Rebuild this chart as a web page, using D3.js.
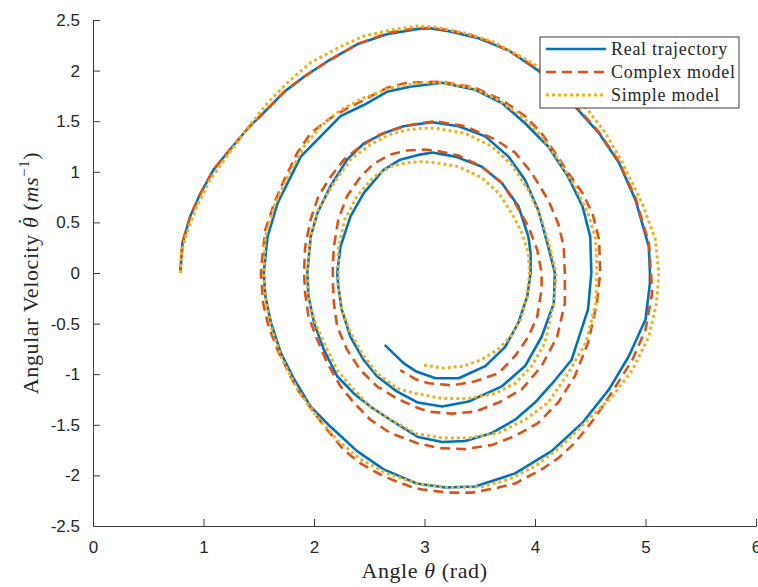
<!DOCTYPE html>
<html lang="en">
<head>
  <meta charset="UTF-8"/>
  <title>Pendulum phase portrait</title>
  <script src="https://d3js.org/d3.v7.min.js"></script>
  <style>
    body { margin: 0; background: #fff; }
    svg { display: block; }
    .tick text { font-family: 'Liberation Sans', Arial, sans-serif; font-size: 17px; fill: #262626; }
    .label, .legend text { font-family: 'Liberation Serif', 'Times New Roman', serif; fill: #262626; }
  </style>
</head>
<body>
  <svg width="758" height="587"></svg>

  <script>

  // phase-plane samples: [angle (rad), angular velocity]
  const realTrajectory = [
    [0.79, 0], [0.81, 0.30], [0.88, 0.56], [0.97, 0.78], [1.09, 1.02], [1.24, 1.22], [1.41, 1.44],
    [1.55, 1.59], [1.73, 1.79], [1.91, 1.94], [2.12, 2.09], [2.39, 2.26], [2.66, 2.36], [2.93, 2.41],
    [3.04, 2.42], [3.22, 2.39], [3.49, 2.32], [3.76, 2.20], [4.03, 2.00], [4.36, 1.65], [4.58, 1.38],
    [4.76, 1.09], [4.91, 0.72], [5.03, 0.26], [5.04, 0.0], [5.04, -0.10], [5.00, -0.46], [4.85, -0.82],
    [4.67, -1.15], [4.43, -1.48], [4.15, -1.76], [3.82, -1.98], [3.46, -2.11], [3.19, -2.12],
    [2.93, -2.08], [2.63, -1.94], [2.39, -1.76], [2.15, -1.52], [1.97, -1.32], [1.82, -1.05],
    [1.70, -0.79], [1.61, -0.49], [1.56, -0.23], [1.545, 0.0],
    [1.58, 0.36], [1.67, 0.69], [1.88, 1.15], [2.06, 1.35], [2.24, 1.55], [2.45, 1.66], [2.66, 1.79],
    [2.87, 1.84], [3.16, 1.88], [3.46, 1.81], [3.70, 1.68], [3.91, 1.48], [4.12, 1.25], [4.30, 0.95],
    [4.43, 0.66], [4.50, 0.36], [4.51, 0.0], [4.48, -0.36], [4.33, -0.86], [4.18, -1.06], [4.00, -1.28],
    [3.82, -1.45], [3.61, -1.58], [3.37, -1.66], [3.16, -1.67], [2.94, -1.62], [2.69, -1.45],
    [2.51, -1.32], [2.36, -1.19], [2.21, -1.02], [2.09, -0.76], [2.00, -0.49], [1.95, -0.23], [1.94, 0.0],
    [1.97, 0.36], [2.03, 0.59], [2.15, 0.86], [2.30, 1.12], [2.45, 1.28], [2.63, 1.38], [2.81, 1.45],
    [3.00, 1.48], [3.07, 1.49], [3.31, 1.45], [3.55, 1.35], [3.76, 1.15], [3.91, 0.92], [4.03, 0.62],
    [4.12, 0.26], [4.18, 0.0], [4.17, -0.30], [4.06, -0.63], [3.91, -0.92], [3.70, -1.12], [3.40, -1.27],
    [3.16, -1.32], [2.94, -1.28], [2.75, -1.17], [2.57, -1.02], [2.45, -0.86], [2.33, -0.63],
    [2.25, -0.36], [2.22, -0.13], [2.21, 0.0],
    [2.24, 0.26], [2.33, 0.56], [2.45, 0.79], [2.63, 1.02], [2.78, 1.12], [2.96, 1.17], [3.07, 1.19],
    [3.28, 1.15], [3.52, 1.05], [3.70, 0.89], [3.85, 0.66], [3.94, 0.36], [3.96, 0.20], [3.96, 0.0],
    [3.93, -0.23], [3.85, -0.49], [3.73, -0.73], [3.55, -0.92], [3.31, -1.04], [3.10, -1.04],
    [2.92, -0.97], [2.81, -0.89], [2.64, -0.71]
  ];

  const complexModel = [
    [0.79, 0], [0.81, 0.30], [0.88, 0.56], [0.97, 0.78], [1.09, 1.02], [1.24, 1.22], [1.41, 1.44],
    [1.55, 1.59], [1.73, 1.79], [1.91, 1.94], [2.12, 2.09], [2.39, 2.26], [2.66, 2.37], [2.93, 2.42],
    [3.04, 2.42], [3.22, 2.40], [3.49, 2.33], [3.76, 2.20], [4.03, 2.01], [4.36, 1.66], [4.58, 1.39],
    [4.76, 1.10], [4.91, 0.74], [5.03, 0.30], [5.05, 0.0], [5.06, -0.20], [5.00, -0.56], [4.88, -0.86],
    [4.73, -1.12], [4.55, -1.42], [4.36, -1.68], [4.21, -1.83], [4.06, -1.94], [3.82, -2.08],
    [3.67, -2.12], [3.43, -2.17], [3.22, -2.17], [2.98, -2.14], [2.87, -2.11], [2.63, -2.01],
    [2.42, -1.88], [2.27, -1.75], [2.12, -1.55], [2.00, -1.38], [1.85, -1.15], [1.76, -0.96],
    [1.67, -0.76], [1.59, -0.53], [1.54, -0.30], [1.52, 0.0],
    [1.53, 0.13], [1.56, 0.43], [1.64, 0.69], [1.73, 0.92], [1.85, 1.19], [1.97, 1.38], [2.12, 1.51],
    [2.27, 1.61], [2.45, 1.71], [2.66, 1.83], [2.84, 1.88], [3.16, 1.89], [3.46, 1.83], [3.70, 1.71],
    [3.91, 1.55], [4.06, 1.38], [4.18, 1.19], [4.30, 0.99], [4.43, 0.79], [4.52, 0.59], [4.58, 0.33],
    [4.59, 0.0], [4.56, -0.30], [4.48, -0.69], [4.36, -1.02], [4.21, -1.28], [4.03, -1.48],
    [3.82, -1.61], [3.61, -1.70], [3.37, -1.74], [3.13, -1.73], [2.93, -1.68], [2.69, -1.58],
    [2.51, -1.45], [2.36, -1.28], [2.24, -1.12], [2.12, -0.89], [2.03, -0.66], [1.95, -0.43],
    [1.92, -0.20], [1.91, 0.0],
    [1.92, 0.26], [1.97, 0.53], [2.04, 0.76], [2.15, 0.95], [2.27, 1.12], [2.42, 1.25], [2.60, 1.37],
    [2.81, 1.45], [2.96, 1.48], [3.10, 1.50], [3.37, 1.45], [3.64, 1.32], [3.82, 1.19], [3.97, 0.99],
    [4.12, 0.72], [4.21, 0.49], [4.26, 0.26], [4.27, 0.0], [4.27, -0.30], [4.20, -0.63], [4.06, -0.92],
    [3.88, -1.15], [3.67, -1.28], [3.46, -1.37], [3.25, -1.39], [3.04, -1.37], [2.93, -1.33],
    [2.75, -1.24], [2.57, -1.12], [2.42, -0.96], [2.30, -0.76], [2.21, -0.53], [2.18, -0.30],
    [2.17, -0.07], [2.17, 0.07],
    [2.18, 0.26], [2.22, 0.53], [2.30, 0.76], [2.42, 0.95], [2.54, 1.08], [2.69, 1.17], [2.84, 1.21],
    [3.00, 1.22], [3.10, 1.21], [3.31, 1.16], [3.52, 1.05], [3.70, 0.89], [3.82, 0.69], [3.94, 0.46],
    [4.02, 0.23], [4.06, 0.0], [4.06, -0.16], [4.02, -0.43], [3.94, -0.63], [3.82, -0.82],
    [3.67, -0.99], [3.46, -1.07], [3.25, -1.11], [3.04, -1.09], [2.92, -1.05], [2.78, -0.96]
  ];

  const simpleModel = [
    [0.79, 0.0], [0.80, 0.20], [0.85, 0.40], [0.94, 0.66], [1.06, 0.92], [1.21, 1.15], [1.39, 1.42],
    [1.58, 1.68], [1.76, 1.88], [1.97, 2.08], [2.21, 2.22], [2.45, 2.34], [2.69, 2.40], [2.93, 2.44],
    [3.10, 2.43], [3.37, 2.37], [3.61, 2.29], [3.82, 2.17], [4.03, 2.04], [4.25, 1.84], [4.48, 1.61],
    [4.64, 1.38], [4.79, 1.09], [4.97, 0.69], [5.09, 0.33], [5.12, 0.0], [5.10, -0.30], [5.03, -0.63],
    [4.88, -0.96], [4.70, -1.22], [4.48, -1.45], [4.24, -1.71], [4.00, -1.91], [3.76, -2.04],
    [3.52, -2.11], [3.22, -2.12], [2.93, -2.08], [2.66, -1.98], [2.42, -1.84], [2.21, -1.65],
    [2.03, -1.42], [1.85, -1.15], [1.70, -0.82], [1.61, -0.53], [1.56, -0.23], [1.545, 0.0],
    [1.56, 0.36], [1.64, 0.66], [1.76, 0.95], [1.91, 1.25], [2.06, 1.45], [2.24, 1.61], [2.45, 1.73],
    [2.69, 1.83], [2.96, 1.88], [3.16, 1.88], [3.43, 1.83], [3.67, 1.71], [3.88, 1.55], [4.06, 1.35],
    [4.21, 1.12], [4.36, 0.86], [4.48, 0.59], [4.55, 0.33], [4.56, 0.0], [4.55, -0.30], [4.46, -0.69],
    [4.30, -0.99], [4.12, -1.28], [3.91, -1.45], [3.67, -1.58], [3.40, -1.63], [3.16, -1.63],
    [2.93, -1.59], [2.69, -1.45], [2.51, -1.32], [2.36, -1.15], [2.21, -0.96], [2.09, -0.69],
    [2.00, -0.46], [1.95, -0.23], [1.94, 0.0],
    [1.97, 0.36], [2.04, 0.63], [2.18, 0.89], [2.33, 1.12], [2.51, 1.27], [2.69, 1.37], [2.87, 1.42],
    [3.00, 1.43], [3.10, 1.43], [3.37, 1.38], [3.61, 1.25], [3.79, 1.07], [3.94, 0.82], [4.06, 0.53],
    [4.14, 0.23], [4.19, 0.0], [4.17, -0.30], [4.09, -0.69], [3.97, -0.92], [3.82, -1.09],
    [3.64, -1.19], [3.40, -1.24], [3.16, -1.24], [2.92, -1.19], [2.75, -1.14], [2.57, -0.99],
    [2.45, -0.82], [2.33, -0.59], [2.25, -0.36], [2.22, -0.13], [2.22, 0.0],
    [2.22, 0.26], [2.28, 0.53], [2.39, 0.76], [2.54, 0.95], [2.69, 1.05], [2.84, 1.09], [2.96, 1.10],
    [3.10, 1.09], [3.31, 1.05], [3.52, 0.94], [3.67, 0.79], [3.79, 0.59], [3.88, 0.40], [3.94, 0.20],
    [3.95, 0.0], [3.93, -0.23], [3.87, -0.46], [3.78, -0.63], [3.66, -0.76], [3.51, -0.86],
    [3.35, -0.92], [3.17, -0.94], [2.99, -0.91]
  ];

  const seriesNames = ['Real trajectory', 'Complex model', 'Simple model'];
  const xTicks = [0, 1, 2, 3, 4, 5, 6];
  const yTicks = [-2.5, -2, -1.5, -1, -0.5, 0, 0.5, 1, 1.5, 2, 2.5];

  const svg = d3.select('svg');

  const plotLeft = 93, plotRight = 756, plotTop = 20, plotBottom = 526;

  const xScale = d3.scaleLinear().domain([0, 6]).range([plotLeft, plotRight]);
  const yScale = d3.scaleLinear().domain([-2.5, 2.5]).range([plotBottom, plotTop]);

  const axisColor = '#3c3c3c';

  const xAxis = svg.append('g')
    .attr('transform', `translate(0, ${plotBottom})`)
    .call(d3.axisBottom(xScale)
      .tickValues(xTicks)
      .tickFormat(d => String(d))
      .tickSizeInner(-7)
      .tickSizeOuter(0)
      .tickPadding(15));

  const yAxis = svg.append('g')
    .attr('transform', `translate(${plotLeft}, 0)`)
    .call(d3.axisLeft(yScale)
      .tickValues(yTicks)
      .tickFormat(d => String(d))
      .tickSizeInner(-7)
      .tickSizeOuter(0)
      .tickPadding(13));

  [xAxis, yAxis].forEach(ax => {
    ax.select('.domain').attr('stroke', axisColor);
    ax.selectAll('.tick line').attr('stroke', axisColor);
    ax.attr('font-family', null).attr('font-size', null);
  });

  const line = d3.line()
    .x(d => xScale(d[0]))
    .y(d => yScale(d[1]));

  const styles = [
    { color: '#0072BD', dash: null, width: 2.6 },
    { color: '#D95319', dash: '10,6', width: 2.6 },
    { color: '#EDB120', dash: '3,3', width: 3 }
  ];

  [realTrajectory, complexModel, simpleModel].forEach((data, i) => {
    svg.append('path')
      .datum(data)
      .attr('fill', 'none')
      .attr('stroke', styles[i].color)
      .attr('stroke-width', styles[i].width)
      .attr('stroke-dasharray', styles[i].dash)
      .attr('stroke-linejoin', 'round')
      .attr('d', line);
  });

  // axis titles
  const xLabel = svg.append('text')
    .attr('class', 'label')
    .attr('x', (plotLeft + plotRight) / 2)
    .attr('y', 578)
    .attr('text-anchor', 'middle')
    .attr('font-size', 22)
    .attr('letter-spacing', 0.6);
  xLabel.append('tspan').text('Angle ');
  xLabel.append('tspan').attr('font-style', 'italic').text('θ');
  xLabel.append('tspan').text(' (rad)');

  const yLabel = svg.append('text')
    .attr('class', 'label')
    .attr('transform', `translate(38, ${(plotTop + plotBottom) / 2}) rotate(-90)`)
    .attr('text-anchor', 'middle')
    .attr('font-size', 22)
    .attr('letter-spacing', 0.6);
  yLabel.append('tspan').text('Angular Velocity ');
  yLabel.append('tspan').attr('font-style', 'italic').text('θ');
  // dot accent over theta
  yLabel.append('tspan').attr('dx', -8.4).attr('dy', -5).text('˙');
  yLabel.append('tspan').attr('dx', 0.4).attr('dy', 5).text(' (');
  yLabel.append('tspan').attr('font-style', 'italic').text('ms');
  yLabel.append('tspan').attr('font-size', 15).attr('dy', -9).text('−1');
  yLabel.append('tspan').attr('dy', 9).text(')');

  // legend
  const legend = svg.append('g')
    .attr('class', 'legend')
    .attr('transform', 'translate(540, 37)');

  legend.append('rect')
    .attr('width', 199)
    .attr('height', 71)
    .attr('fill', '#fff')
    .attr('stroke', '#3c3c3c')
    .attr('stroke-width', 1);

  seriesNames.forEach((name, i) => {
    const y = 12 + i * 23;
    legend.append('line')
      .attr('x1', 6)
      .attr('x2', 66)
      .attr('y1', y)
      .attr('y2', y)
      .attr('stroke', styles[i].color)
      .attr('stroke-width', styles[i].width)
      .attr('stroke-dasharray', styles[i].dash);
    legend.append('text')
      .attr('x', 71)
      .attr('y', y + 5.5)
      .attr('font-size', 18)
      .attr('letter-spacing', 0.7)
      .text(name);
  });

  </script>
</body>
</html>
